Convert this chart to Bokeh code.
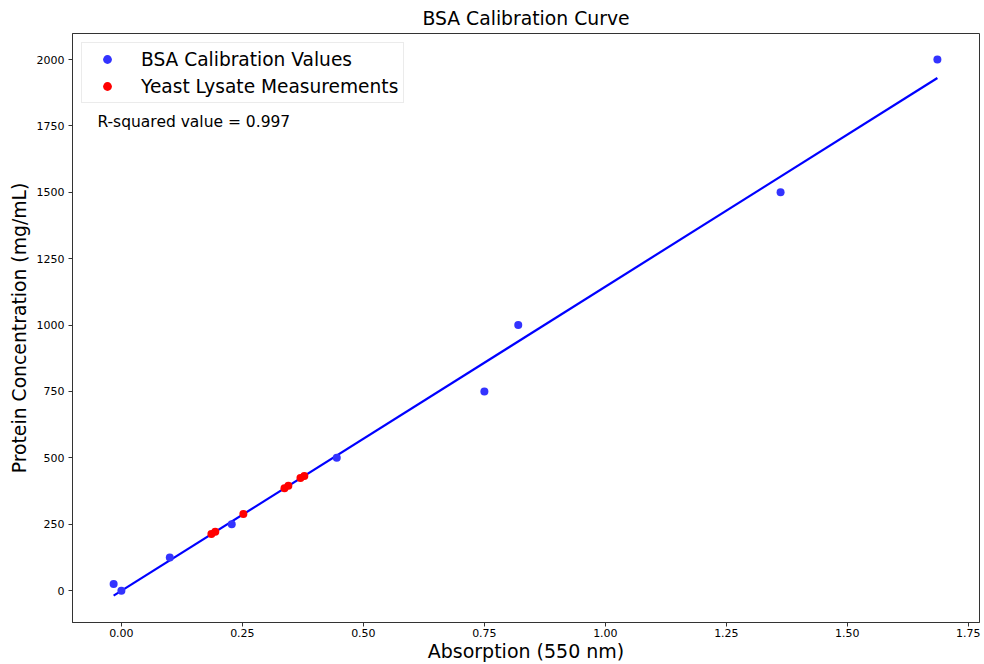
import numpy as np
from bokeh.plotting import figure
from bokeh.models import Range1d, Legend, LegendItem, Label, FixedTicker, NumeralTickFormatter
from bokeh.embed import file_html
from bokeh.resources import INLINE

# BSA calibration standards
bsa_absorption = [-0.016, 0.0, 0.100, 0.228, 0.445, 0.750, 0.820, 1.362, 1.686]
bsa_concentration = [25, 0, 125, 250, 500, 750, 1000, 1500, 2000]

# Yeast lysate measurements
yeast_absorption = [0.186, 0.194, 0.252, 0.337, 0.345, 0.370, 0.378]
yeast_concentration = [213, 222, 289, 386, 395, 424, 432]

x_ticks = [0.0, 0.25, 0.5, 0.75, 1.0, 1.25, 1.5, 1.75]
y_ticks = [0, 250, 500, 750, 1000, 1250, 1500, 1750, 2000]
r_squared_text = "R-squared value = 0.997"

FONT = "DejaVu Sans"

# linear fit through calibration values
slope, intercept = np.polyfit(bsa_absorption, bsa_concentration, 1)
fit_x = [min(bsa_absorption), max(bsa_absorption)]
fit_y = [slope * v + intercept for v in fit_x]

p = figure(width=984, height=664, output_backend="svg", toolbar_location=None,
           x_range=Range1d(-0.101, 1.773), y_range=Range1d(-120, 2098),
           min_border_left=72, min_border_right=5, min_border_top=33, min_border_bottom=42,
           title="BSA Calibration Curve")

p.title.text_font = FONT
p.title.text_font_size = "18.8px"
p.title.text_font_style = "normal"
p.title.align = "center"
p.title.text_color = "black"

p.xgrid.visible = False
p.ygrid.visible = False
p.outline_line_color = "#333333"
p.outline_line_width = 1
p.background_fill_color = "white"
p.border_fill_color = "white"

line_r = p.line(fit_x, fit_y, line_color="#0000ff", line_width=2.2)
bsa_r = p.scatter(bsa_absorption, bsa_concentration, size=8, fill_color="#3333ff",
                  line_color=None)
yeast_r = p.scatter(yeast_absorption, yeast_concentration, size=8, fill_color="#ff0000",
                    line_color=None)

for ax, ticks in ((p.xaxis[0], x_ticks), (p.yaxis[0], y_ticks)):
    ax.ticker = FixedTicker(ticks=ticks)
    ax.minor_tick_line_color = None
    ax.major_tick_out = 4
    ax.major_tick_in = 0
    ax.major_label_text_font = FONT
    ax.major_label_text_font_size = "11px"
    ax.major_label_text_color = "black"
    ax.axis_label_text_font = FONT
    ax.axis_label_text_font_size = "19px"
    ax.axis_label_text_font_style = "normal"
    ax.axis_label_text_color = "black"
    ax.axis_line_color = "#333333"
    ax.major_tick_line_color = "#333333"

p.xaxis[0].formatter = NumeralTickFormatter(format="0.00")
p.yaxis[0].formatter = NumeralTickFormatter(format="0")
p.xaxis[0].axis_label = "Absorption (550 nm)"
p.yaxis[0].axis_label = "Protein Concentration (mg/mL)"
p.yaxis[0].axis_label_text_font_size = "18.8px"
p.xaxis[0].major_label_standoff = 2
p.xaxis[0].axis_label_standoff = 0
p.yaxis[0].major_label_standoff = 4
p.yaxis[0].axis_label_standoff = 4

legend = Legend(items=[
    LegendItem(label="BSA Calibration Values", renderers=[bsa_r]),
    LegendItem(label="Yeast Lysate Measurements", renderers=[yeast_r]),
], location="top_left")
legend.margin = 9
legend.padding = 5
legend.spacing = 5
legend.label_height = 22
legend.glyph_height = 22
legend.glyph_width = 40
legend.label_standoff = 14
legend.label_text_font = FONT
legend.label_text_font_size = "18.6px"
legend.label_text_color = "black"
legend.border_line_color = "#d8d8d8"
legend.border_line_width = 1
legend.background_fill_alpha = 0.8
p.add_layout(legend, "center")

p.add_layout(Label(x=-0.0496, y=1766, text=r_squared_text, text_font=FONT,
                   text_font_size="15.5px", text_baseline="middle", text_color="black"))

open("out.html", "w").write(file_html(p, INLINE))
